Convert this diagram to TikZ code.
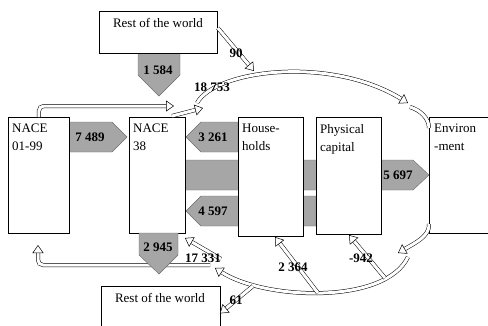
\documentclass[tikz,border=0pt]{standalone}
\usepackage{fontspec}
\setmainfont{Liberation Serif}
\usetikzlibrary{arrows.meta}

\tikzset{
  box/.style={draw, fill=white, line width=0.8pt, anchor=north west, inner sep=0pt},
  boxtext/.style={anchor=north west, inner sep=0pt, align=left, font=\fontsize{13}{18}\selectfont},
  flowbar/.style={fill=gray!70, draw=gray!85!black, line width=0.4pt},
  num/.style={font=\fontsize{13}{15}\selectfont\bfseries, inner sep=0pt},
  flowline/.style={draw=black, line width=0.5pt, double=white, double distance=3pt},
  flow/.style={flowline, -{Triangle[length=8pt,width=11pt,fill=white,line width=0.5pt]}},
}

\begin{document}
\begin{tikzpicture}[x=1pt,y=-1pt]
  \clip (0,0) rectangle (488,325);
  % gray flows (drawn first, boxes go on top)
  \filldraw[flowbar] (138,53) -- (180,53) -- (180,75) -- (159,96) -- (138,75) -- cycle;
  \filldraw[flowbar] (69,122) -- (112,122) -- (127,137) -- (112,152) -- (69,152) -- cycle;
  \filldraw[flowbar] (238,122) -- (201,122) -- (186,137) -- (201,152) -- (238,152) -- cycle;
  \filldraw[flowbar] (185,160) -- (413,160) -- (429,175) -- (413,190) -- (185,190) -- cycle;
  \filldraw[flowbar] (316,196) -- (201,196) -- (186,211) -- (201,226) -- (316,226) -- cycle;

  % sectors
  \node[box, minimum width=118pt, minimum height=42pt] (rowtop) at (99,11) {};
  \node[box, minimum width=61pt, minimum height=116pt] (nace0199) at (8,117) {};
  \node[box, minimum width=56pt, minimum height=116pt] (nace38) at (129,117) {};
  \node[box, minimum width=65pt, minimum height=119pt] (hh) at (238,117) {};
  \node[box, minimum width=65pt, minimum height=117pt] (cap) at (316,117) {};
  \node[box, minimum width=71pt, minimum height=116pt] (env) at (429,117) {};
  \node[box, minimum width=119pt, minimum height=54pt] (rowbot) at (101,286) {};

  \node[boxtext, anchor=base] (trowtop) at (158,27) {Rest of the world};
  \node[boxtext] (t0199) at (12,124) {NACE\\01-99};
  \node[boxtext] (t38) at (133,124) {NACE\\38};
  \node[boxtext] (thh) at (242,124) {House-\\holds};
  \node[boxtext] (tcap) at (320,124) {Physical\\capital};
  \node[boxtext] (tenv) at (434,124) {Environ\\-ment};
  \node[boxtext, anchor=base] (trowbot) at (160,302) {Rest of the world};

  % material loop
  \coordinate (topin) at (174,106);
  \coordinate (arcstart) at (197,103);
  \coordinate (arcend) at (408,103);
  \coordinate (envtop) at (410,107);
  \coordinate (envout) at (398,253);
  \coordinate (botstart) at (408,257);
  \coordinate (botend) at (215,268);
  \coordinate (loopstart) at (210,265);
  \coordinate (in0199) at (38,245);
  \draw[flow, rounded corners=5pt] (nace0199.north) |- (topin);
  \draw[flow] (172,116) -- (203,108);
  \draw[flow] (arcstart) .. controls (215,70) and (330,55) .. (arcend);
  \draw[flowline] (envtop) .. controls (420,110) and (429,118) .. (env.north west |- 0,128);
  \draw[flow] (env.west |- 0,224) .. controls (430,236) and (415,243) .. (envout);
  \draw[flow] (botstart) .. controls (385,305) and (265,300) .. (botend);
  \draw[flow, rounded corners=5pt] (loopstart) -| (in0199);

  % flows to and from the loop
  \coordinate (w90) at (254,71);
  \coordinate (t17331) at (221,259);
  \coordinate (t2364) at (318,293);
  \coordinate (t942) at (385,278);
  \coordinate (t61) at (253,286);
  \draw[flow] (rowtop.north east |- 0,28) -- (w90);
  \draw[flow] (t17331) -- (185,238);
  \draw[flow] (t2364) -- (275,237);
  \draw[flow] (t942) -- (349,235);
  \draw[flow] (t61) -- (rowbot.west -| 220,317);

  % waste treatment output goes over the loop
  \filldraw[flowbar] (139,233) -- (178,233) -- (178,255) -- (159,274) -- (139,255) -- cycle;

  % values
  \node[num] (n1584) at (158,70) {1 584};
  \node[num] (n7489) at (90,137) {7 489};
  \node[num] (n3261) at (213,137) {3 261};
  \node[num] (n4597) at (213,211) {4 597};
  \node[num] (n5697) at (398,175) {5 697};
  \node[num] (n2945) at (158,247) {2 945};
  \node[num] (n18753) at (212,87) {18 753};
  \node[num] (n90) at (236,53) {90};
  \node[num] (n17331) at (203,258) {17 331};
  \node[num] (n2364) at (293,267) {2 364};
  \node[num] (n942) at (361,258) {-942};
  \node[num] (n61) at (236,300) {61};
\end{tikzpicture}
\end{document}
